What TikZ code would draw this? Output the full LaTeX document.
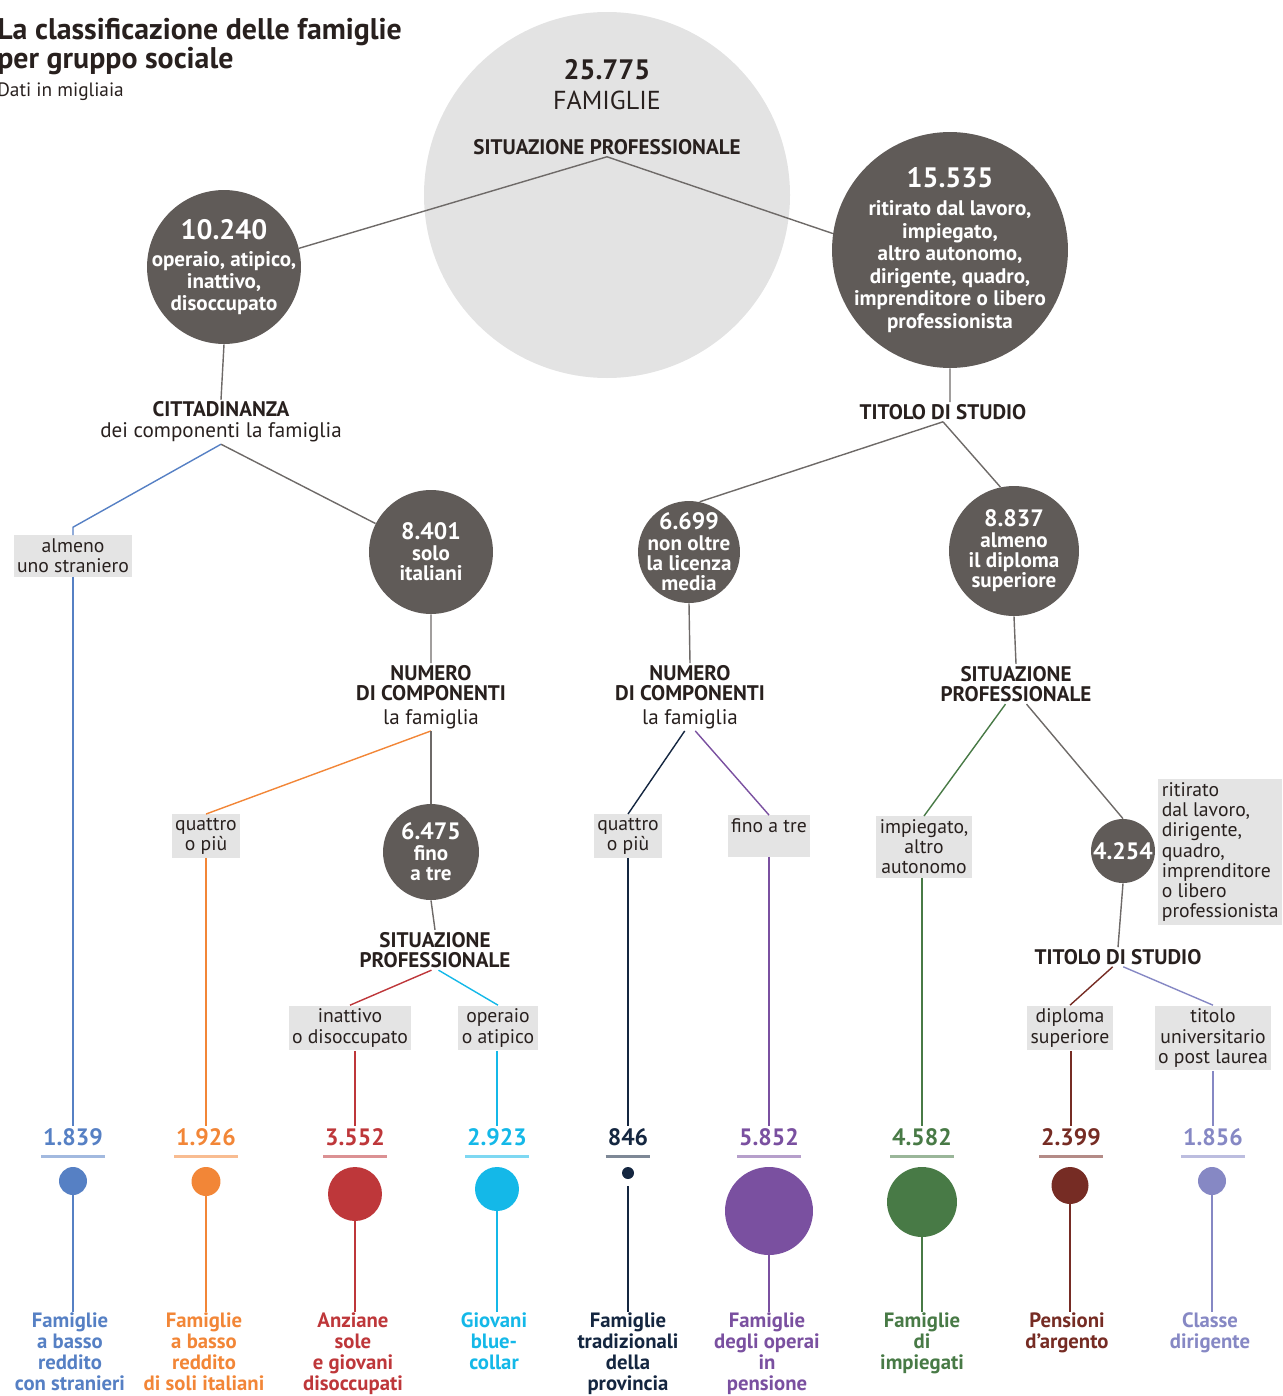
\documentclass[tikz,border=0pt]{standalone}
\usepackage{fontspec}
\setmainfont{PT Sans}
\usetikzlibrary{positioning}
\definecolor{ink}{RGB}{40,32,30}
\definecolor{bubgray}{RGB}{96,91,88}
\definecolor{biggray}{RGB}{227,227,227}
\definecolor{boxgray}{RGB}{228,228,228}
\definecolor{linegray}{RGB}{110,106,104}
\definecolor{cblue}{RGB}{86,128,196}
\definecolor{corange}{RGB}{242,134,55}
\definecolor{cred}{RGB}{190,55,58}
\definecolor{ccyan}{RGB}{20,184,232}
\definecolor{cnavy}{RGB}{20,38,64}
\definecolor{cpurple}{RGB}{122,80,160}
\definecolor{cgreen}{RGB}{72,122,70}
\definecolor{cbrown}{RGB}{118,44,36}
\definecolor{clav}{RGB}{134,136,196}
\newcommand{\bignum}{\bfseries\fontsize{16}{18}\selectfont}
\newcommand{\midnum}{\bfseries\fontsize{13.5}{14}\selectfont}
\begin{document}
\begin{tikzpicture}[x=0.02cm,y=-0.02cm,
  bub/.style={circle,fill=bubgray,inner sep=0pt,minimum size=#1*0.04cm},
  btxt/.style={text=white,align=center,inner sep=0pt,font=\bfseries\fontsize{12}{11.6}\selectfont},
  hd/.style={align=center,text=ink,inner sep=1pt,font=\bfseries\fontsize{12}{11.8}\selectfont},
  opt/.style={fill=boxgray,text=ink,align=center,inner sep=2pt,font=\fontsize{11.2}{11.4}\selectfont},
  num/.style={inner sep=1pt,font=\bfseries\fontsize{13.5}{15}\selectfont},
  dot/.style={circle,inner sep=0pt,minimum size=#1*0.04cm},
  grp/.style={anchor=north,align=center,inner sep=0pt,font=\bfseries\fontsize{11.8}{12}\selectfont},
  link/.style={draw=linegray,line width=0.8pt},
  wire/.style={line width=0.8pt}]
\useasboundingbox (0,0) rectangle (1282,1396);
\node[anchor=north west,align=left,text=ink,inner sep=0pt,font=\bfseries\fontsize{17}{15.5}\selectfont] (title) at (-3,18)
  {La classificazione delle famiglie\\per gruppo sociale};
\node[anchor=north west,text=ink,inner sep=0pt,font=\fontsize{11}{12}\selectfont] (sub) at (-3,82) {Dati in migliaia};

\node[circle,fill=biggray,minimum size=366*0.02cm] (c0) at (607,195) {};
\node[text=ink,font=\bignum] (tot) at (607,70) {25.775};
\node[text=ink,font=\fontsize{14.8}{15}\selectfont] (fam) at (607,100) {FAMIGLIE};
\node[hd] (sp0) at (607,147) {SITUAZIONE PROFESSIONALE};

\node[bub=77] (c1) at (224,267) {};
\node[btxt,font=\bfseries\fontsize{12}{12.6}\selectfont] (t1) at (c1) {{\bignum 10.240}\\[3pt]operaio, atipico,\\inattivo,\\disoccupato};
\node[bub=118] (c2) at (950,250) {};
\node[btxt,font=\bfseries\fontsize{12}{12.8}\selectfont] (t2) at (c2) {{\bignum 15.535}\\[3pt]ritirato dal lavoro,\\impiegato,\\altro autonomo,\\dirigente, quadro,\\imprenditore o libero\\professionista};
\draw[link] (sp0.south) -- (c1.14) (sp0.south) -- (c2.172);

\node[hd] (cit) at (221,422) {CITTADINANZA\\\mdseries dei componenti la famiglia};
\node[hd] (tit1) at (943,412) {TITOLO DI STUDIO};
\draw[link] (c1.south) -- (cit.north) (c2.south) -- (c2.south |- tit1.north);

\node[opt] (b1) at (73,556) {almeno\\uno straniero};
\node[bub=62] (c3) at (431,552) {};
\node[btxt] (t3) at (c3) {{\midnum 8.401}\\solo\\italiani};
\node[bub=51] (c5) at (689,552) {};
\node[btxt] (t5) at (c5) {{\midnum 6.699}\\non oltre\\la licenza\\media};
\node[bub=65] (c6) at (1014,551) {};
\node[btxt] (t6) at (c6) {{\midnum 8.837}\\almeno\\il diploma\\superiore};
\draw[cblue,wire] (cit.south) -- ([yshift=4.5pt]b1.north) -- (b1.north);
\draw[link] (cit.south) -- (c3) (tit1.south) -- (c5.78) (tit1.south) -- (c6.102);

\node[hd] (num1) at (431,697) {NUMERO\\DI COMPONENTI\\[1.5pt]\mdseries la famiglia};
\node[hd] (num2) at (690,697) {NUMERO\\DI COMPONENTI\\[1.5pt]\mdseries la famiglia};
\node[hd] (sit2) at (1016,684) {SITUAZIONE\\PROFESSIONALE};
\draw[link] (c3.south) -- (num1.north) (c5.south) -- (num2.north) (c6.south) -- (sit2.north);

\node[opt] (b2) at (206,836) {quattro\\o più};
\node[bub=48] (c4) at (431,852) {};
\node[btxt] (t4) at (c4) {{\midnum 6.475}\\fino\\a tre};
\node[opt] (b5) at (628,836) {quattro\\o più};
\node[opt] (b6) at (769,836) {fino a tre\\\phantom{o}};
\node[opt] (b7) at (924,847) {impiegato,\\altro\\autonomo};
\node[bub=32] (c7) at (1123,851) {};
\node[btxt,font=\midnum] (t7) at (c7) {4.254};
\node[opt,align=left,anchor=west] (b8) at (1158,852) {ritirato\\dal lavoro,\\dirigente,\\quadro,\\imprenditore\\o libero\\professionista};
\draw[corange,wire] (num1.south) -- (b2.north);
\draw[link] (num1.south) -- (c4.north);
\draw[cnavy,wire] ([xshift=-3pt]num2.south) -- (b5.north);
\draw[cpurple,wire] ([xshift=3pt]num2.south) -- (b6.north);
\draw[cgreen,wire] ([xshift=-6pt]sit2.south) -- (b7.north);
\draw[link] ([xshift=6pt]sit2.south) -- (c7.north);

\node[hd] (sit1) at (435,950) {SITUAZIONE\\PROFESSIONALE};
\node[hd] (tit2) at (1118,957) {TITOLO DI STUDIO};
\draw[link] (c4.south) -- (sit1.north) (c7.south) -- (tit2.north);
\node[opt] (b3) at (350,1028) {inattivo\\o disoccupato};
\node[opt] (b4) at (498,1028) {operaio\\o atipico};
\node[opt] (b9) at (1070,1028) {diploma\\superiore};
\node[opt] (b10) at (1213,1038) {titolo\\universitario\\o post laurea};
\draw[cred,wire] ([xshift=-2pt]sit1.south) -- (b3.north);
\draw[ccyan,wire] ([xshift=2pt]sit1.south) -- (b4.north);
\draw[cbrown,wire] ([xshift=-3pt]tit2.south) -- (b9.north);
\draw[clav,wire] ([xshift=3pt]tit2.south) -- (b10.north);

\node[num,text=cblue] (n1) at (73,1137) {1.839};
\node[dot=14,fill=cblue] (d1) at (73,1181) {};
\node[grp,text=cblue] (g1) at (70,1312) {Famiglie\\a basso\\reddito\\con stranieri};
\draw[cblue!55,line width=1.3pt] ([yshift=-5pt]n1.south west) -- ([yshift=-5pt]n1.south east);
\draw[cblue,wire] (b1.south) -- (n1.north) (d1.south) -- (d1.south |- g1.north);

\node[num,text=corange] (n2) at (206,1137) {1.926};
\node[dot=14.5,fill=corange] (d2) at (206,1181.5) {};
\node[grp,text=corange] (g2) at (204,1312) {Famiglie\\a basso\\reddito\\di soli italiani};
\draw[corange!55,line width=1.3pt] ([yshift=-5pt]n2.south west) -- ([yshift=-5pt]n2.south east);
\draw[corange,wire] (b2.south) -- (n2.north) (d2.south) -- (d2.south |- g2.north);

\node[num,text=cred] (n3) at (355,1137) {3.552};
\node[dot=27,fill=cred] (d3) at (355,1194) {};
\node[grp,text=cred] (g3) at (353,1312) {Anziane\\sole\\e giovani\\disoccupati};
\draw[cred!55,line width=1.3pt] ([yshift=-5pt]n3.south west) -- ([yshift=-5pt]n3.south east);
\draw[cred,wire] (b3.south -| n3.north) -- (n3.north) (d3.south) -- (d3.south |- g3.north);

\node[num,text=ccyan] (n4) at (497,1137) {2.923};
\node[dot=22,fill=ccyan] (d4) at (497,1189) {};
\node[grp,text=ccyan] (g4) at (494,1312) {Giovani\\blue-\\collar};
\draw[ccyan!55,line width=1.3pt] ([yshift=-5pt]n4.south west) -- ([yshift=-5pt]n4.south east);
\draw[ccyan,wire] (b4.south -| n4.north) -- (n4.north) (d4.south) -- (d4.south |- g4.north);

\node[num,text=cnavy] (n5) at (628,1137) {846};
\node[dot=6,fill=cnavy] (d5) at (628,1173) {};
\node[grp,text=cnavy] (g5) at (628,1312) {Famiglie\\tradizionali\\della\\provincia};
\draw[cnavy!55,line width=1.3pt] ([yshift=-5pt]n5.south west) -- ([yshift=-5pt]n5.south east);
\draw[cnavy,wire] (b5.south) -- (n5.north) ([yshift=-4pt]d5.south) -- (d5.south |- g5.north);

\node[num,text=cpurple] (n6) at (769,1137) {5.852};
\node[dot=44,fill=cpurple] (d6) at (769,1211) {};
\node[grp,text=cpurple] (g6) at (767,1312) {Famiglie\\degli operai\\in\\pensione};
\draw[cpurple!55,line width=1.3pt] ([yshift=-5pt]n6.south west) -- ([yshift=-5pt]n6.south east);
\draw[cpurple,wire] (b6.south) -- (n6.north) (d6.south) -- (d6.south |- g6.north);

\node[num,text=cgreen] (n7) at (922,1137) {4.582};
\node[dot=35,fill=cgreen] (d7) at (922,1202) {};
\node[grp,text=cgreen] (g7) at (922,1312) {Famiglie\\di\\impiegati};
\draw[cgreen!55,line width=1.3pt] ([yshift=-5pt]n7.south west) -- ([yshift=-5pt]n7.south east);
\draw[cgreen,wire] (b7.south -| n7.north) -- (n7.north) (d7.south) -- (d7.south |- g7.north);

\node[num,text=cbrown] (n8) at (1071,1137) {2.399};
\node[dot=18.5,fill=cbrown] (d8) at (1070,1185.5) {};
\node[grp,text=cbrown] (g8) at (1067,1312) {Pensioni\\d’argento};
\draw[cbrown!55,line width=1.3pt] ([yshift=-5pt]n8.south west) -- ([yshift=-5pt]n8.south east);
\draw[cbrown,wire] (b9.south -| n8.north) -- (n8.north) (d8.south) -- (d8.south |- g8.north);

\node[num,text=clav] (n9) at (1213,1137) {1.856};
\node[dot=14,fill=clav] (d9) at (1212,1181) {};
\node[grp,text=clav] (g9) at (1210,1312) {Classe\\dirigente};
\draw[clav!55,line width=1.3pt] ([yshift=-5pt]n9.south west) -- ([yshift=-5pt]n9.south east);
\draw[clav,wire] (b10.south -| n9.north) -- (n9.north) (d9.south) -- (d9.south |- g9.north);
\end{tikzpicture}
\end{document}
